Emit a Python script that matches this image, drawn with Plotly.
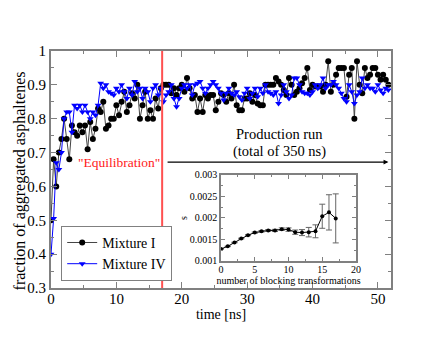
import plotly.graph_objects as go

# ---------------- data ----------------
TIME_NS = [
    0.0, 0.4, 0.8, 1.2, 1.6, 2.0, 2.4, 2.8, 3.2, 3.6,
    4.0, 4.4, 4.8, 5.2, 5.6, 6.0, 6.4, 6.8, 7.2, 7.6,
    8.0, 8.4, 8.8, 9.2, 9.6, 10.0, 10.4, 10.8, 11.2, 11.6,
    12.0, 12.4, 12.8, 13.2, 13.6, 14.0, 14.4, 14.8, 15.2, 15.6,
    16.0, 16.4, 16.8, 17.2, 17.6, 18.0, 18.4, 18.8, 19.2, 19.6,
    20.0, 20.4, 20.8, 21.2, 21.6, 22.0, 22.4, 22.8, 23.2, 23.6,
    24.0, 24.4, 24.8, 25.2, 25.6, 26.0, 26.4, 26.8, 27.2, 27.6,
    28.0, 28.4, 28.8, 29.2, 29.6, 30.0, 30.4, 30.8, 31.2, 31.6,
    32.0, 32.4, 32.8, 33.2, 33.6, 34.0, 34.4, 34.8, 35.2, 35.6,
    36.0, 36.4, 36.8, 37.2, 37.6, 38.0, 38.4, 38.8, 39.2, 39.6,
    40.0, 40.4, 40.8, 41.2, 41.6, 42.0, 42.4, 42.8, 43.2, 43.6,
    44.0, 44.4, 44.8, 45.2, 45.6, 46.0, 46.4, 46.8, 47.2, 47.6,
    48.0, 48.4, 48.8, 49.2, 49.6, 50.0, 50.4, 50.8, 51.2, 51.6,
]

MIXTURE_I = [
    0.50, 0.68, 0.60, 0.70, 0.74, 0.80, 0.74, 0.68, 0.78, 0.76,
    0.75, 0.78, 0.76, 0.78, 0.71, 0.79, 0.74, 0.77, 0.83, 0.82,
    0.85, 0.77, 0.78, 0.80, 0.80, 0.84, 0.81, 0.85, 0.88, 0.82,
    0.84, 0.875, 0.86, 0.90, 0.80, 0.84, 0.88, 0.80, 0.825, 0.80,
    0.86, 0.83, 0.89, 0.90, 0.90, 0.90, 0.875, 0.89, 0.87, 0.89,
    0.90, 0.88, 0.92, 0.89, 0.86, 0.87, 0.82, 0.86, 0.82, 0.87,
    0.86, 0.87, 0.87, 0.825, 0.85, 0.875, 0.87, 0.85, 0.875, 0.86,
    0.90, 0.84, 0.825, 0.825, 0.86, 0.86, 0.875, 0.85, 0.87, 0.845,
    0.84, 0.84, 0.90, 0.90, 0.90, 0.90, 0.92, 0.91, 0.90, 0.885,
    0.87, 0.92, 0.90, 0.87, 0.88, 0.89, 0.905, 0.92, 0.95, 0.885,
    0.90, 0.895, 0.895, 0.895, 0.88, 0.90, 0.97, 0.88, 0.90, 0.93,
    0.95, 0.95, 0.95, 0.865, 0.93, 0.95, 0.80, 0.97, 0.90, 0.875,
    0.95, 0.92, 0.93, 0.95, 0.95, 0.93, 0.915, 0.93, 0.915, 0.90,
]

MIXTURE_IV = [
    0.40, 0.505, 0.67, 0.65, 0.70, 0.80, 0.82, 0.82, 0.76, 0.84,
    0.83, 0.84, 0.82, 0.84, 0.82, 0.80, 0.82, 0.81, 0.84, 0.905,
    0.89, 0.90, 0.88, 0.875, 0.87, 0.89, 0.88, 0.90, 0.88, 0.86,
    0.89, 0.87, 0.91, 0.88, 0.89, 0.86, 0.89, 0.88, 0.85, 0.89,
    0.90, 0.87, 0.89, 0.85, 0.87, 0.88, 0.90, 0.86, 0.835, 0.86,
    0.89, 0.90, 0.89, 0.90, 0.87, 0.90, 0.905, 0.91, 0.89, 0.875,
    0.89, 0.90, 0.91, 0.90, 0.89, 0.875, 0.855, 0.875, 0.89, 0.875,
    0.87, 0.88, 0.865, 0.855, 0.875, 0.89, 0.86, 0.875, 0.89, 0.865,
    0.89, 0.875, 0.90, 0.88, 0.875, 0.87, 0.88, 0.845, 0.87, 0.90,
    0.88, 0.86, 0.87, 0.92, 0.92, 0.90, 0.88, 0.875, 0.875, 0.87,
    0.88, 0.90, 0.89, 0.90, 0.92, 0.89, 0.90, 0.90, 0.91, 0.90,
    0.89, 0.875, 0.86, 0.85, 0.90, 0.88, 0.845, 0.87, 0.88, 0.92,
    0.89, 0.90, 0.89, 0.89, 0.88, 0.90, 0.885, 0.875, 0.89, 0.885,
]

# inset: blocking analysis
BLOCK_N = [0, 1, 2, 3, 4, 5, 6, 7, 8, 9, 10, 11, 12, 13, 14, 15, 16, 17]
S_VALUES = [0.00128, 0.00134, 0.00143, 0.00152, 0.00160, 0.00166, 0.00169, 0.00171,
            0.00171, 0.00174, 0.00173, 0.00167, 0.00166, 0.00167, 0.00169, 0.00204,
            0.00213, 0.00199]
S_ERRORS = [0.000005, 0.000007, 0.000008, 0.00001, 0.000012, 0.000015, 0.000018, 0.00002,
            0.000025, 0.00003, 0.00004, 0.00005, 0.00007, 0.00011, 0.00015, 0.00028,
            0.00041, 0.00057]

MAIN_Y_TICKS = [0.3, 0.4, 0.5, 0.6, 0.7, 0.8, 0.9, 1.0]
MAIN_Y_LABELS = ["0.3", "0.4", "0.5", "0.6", "0.7", "0.8", "0.9", "1"]
INSET_Y_TICKS = [0.001, 0.0015, 0.002, 0.0025, 0.003]
INSET_Y_LABELS = ["0.001", "0.0015", "0.002", "0.0025", "0.003"]

EQUIL_END = 17.0

# ---------------- figure ----------------
SERIF = "Liberation Serif"
AX_COL = "#808080"

fig = go.Figure()

fig.add_trace(go.Scatter(
    x=TIME_NS, y=MIXTURE_I, mode="lines+markers", name="Mixture I",
    line=dict(color="#444444", width=1),
    marker=dict(symbol="circle", size=6, color="black"),
))
fig.add_trace(go.Scatter(
    x=TIME_NS, y=MIXTURE_IV, mode="lines+markers", name="Mixture IV",
    line=dict(color="#0000ff", width=1),
    marker=dict(symbol="triangle-down", size=6, color="#0000ff"),
))
fig.add_trace(go.Scatter(
    x=BLOCK_N, y=S_VALUES, mode="lines+markers", showlegend=False,
    xaxis="x2", yaxis="y2",
    line=dict(color="black", width=1),
    marker=dict(symbol="circle", size=4, color="black"),
    error_y=dict(type="data", array=S_ERRORS, visible=True, color="#666666",
                 thickness=1, width=3),
))

axis_common = dict(
    showline=True, linecolor=AX_COL, linewidth=2, mirror="ticks",
    ticks="inside", tickcolor=AX_COL, tickwidth=1, showgrid=False, zeroline=False,
    tickfont=dict(family=SERIF, size=15, color="black"),
)

fig.update_layout(
    width=432, height=332,
    margin=dict(l=43, r=49, t=43, b=52, autoexpand=False),
    paper_bgcolor="white", plot_bgcolor="white",
    font=dict(family=SERIF, color="black"),
    xaxis=dict(
        **axis_common, range=[0, 52], tickvals=[0, 10, 20, 30, 40, 50], ticklen=6,
        ticklabelstandoff=-4,
        minor=dict(ticks="inside", ticklen=3, tickcolor=AX_COL, dtick=5, tick0=0),
        title=dict(text="time [ns]", font=dict(family=SERIF, size=14), standoff=0),
    ),
    yaxis=dict(
        **axis_common, range=[0.3, 1.0], tickvals=MAIN_Y_TICKS, ticktext=MAIN_Y_LABELS,
        ticklen=6,
        minor=dict(ticks="inside", ticklen=3, tickcolor=AX_COL, dtick=0.05, tick0=0.3),
    ),
    xaxis2=dict(
        showline=True, linecolor=AX_COL, linewidth=1.5, mirror="ticks",
        ticks="inside", tickcolor=AX_COL, ticklen=4, showgrid=False, zeroline=False,
        domain=[0.5, 0.897], anchor="y2", range=[0, 20],
        tickvals=[0, 5, 10, 15, 20], ticklabelstandoff=-2,
        minor=dict(ticks="inside", ticklen=2, tickcolor=AX_COL, dtick=2.5, tick0=0),
        tickfont=dict(family=SERIF, size=10, color="black"),
        title=dict(text="number of blocking transformations",
                   font=dict(family=SERIF, size=10), standoff=0),
    ),
    yaxis2=dict(
        showline=True, linecolor=AX_COL, linewidth=1.5, mirror="ticks",
        ticks="inside", tickcolor=AX_COL, ticklen=4, showgrid=False, zeroline=False,
        domain=[0.114, 0.477], anchor="x2", range=[0.001, 0.003],
        tickvals=INSET_Y_TICKS, ticktext=INSET_Y_LABELS,
        minor=dict(ticks="inside", ticklen=2, tickcolor=AX_COL, dtick=0.00025, tick0=0.001),
        tickfont=dict(family=SERIF, size=10, color="black"),
        title=dict(text="s", font=dict(family=SERIF, size=10), standoff=0),
    ),
    legend=dict(
        x=0.03, y=0.03, xanchor="left", yanchor="bottom",
        bgcolor="white", bordercolor=AX_COL, borderwidth=1,
        font=dict(family=SERIF, size=14, color="black"),
        tracegroupgap=0, itemwidth=30,
    ),
    shapes=[
        dict(type="line", xref="x", yref="paper", x0=EQUIL_END, x1=EQUIL_END,
             y0=0, y1=1, line=dict(color="#ff5050", width=2)),
    ],
    annotations=[
        dict(x=-0.091, y=0.45, xref="paper", yref="paper", textangle=-90,
             xanchor="center", yanchor="middle",
             text="fraction of aggregated asphaltenes", showarrow=False,
             font=dict(family=SERIF, size=16, color="black")),
        dict(x=10.4, y=0.672, xref="x", yref="y", text="\"Equilibration\"",
             showarrow=False, font=dict(family=SERIF, size=13.5, color="#ff2020")),
        dict(x=35.0, y=0.755, xref="x", yref="y", text="Production run",
             showarrow=False, font=dict(family=SERIF, size=14.5, color="black")),
        dict(x=35.0, y=0.703, xref="x", yref="y", text="(total of 350 ns)",
             showarrow=False, font=dict(family=SERIF, size=14.5, color="black")),
        dict(x=51.6, y=0.672, xref="x", yref="y", ax=17.6, ay=0.672,
             axref="x", ayref="y", text="", showarrow=True,
             arrowhead=2, arrowsize=0.8, arrowwidth=1.2, arrowcolor="black"),
    ],
)

fig.write_html("out.html")
